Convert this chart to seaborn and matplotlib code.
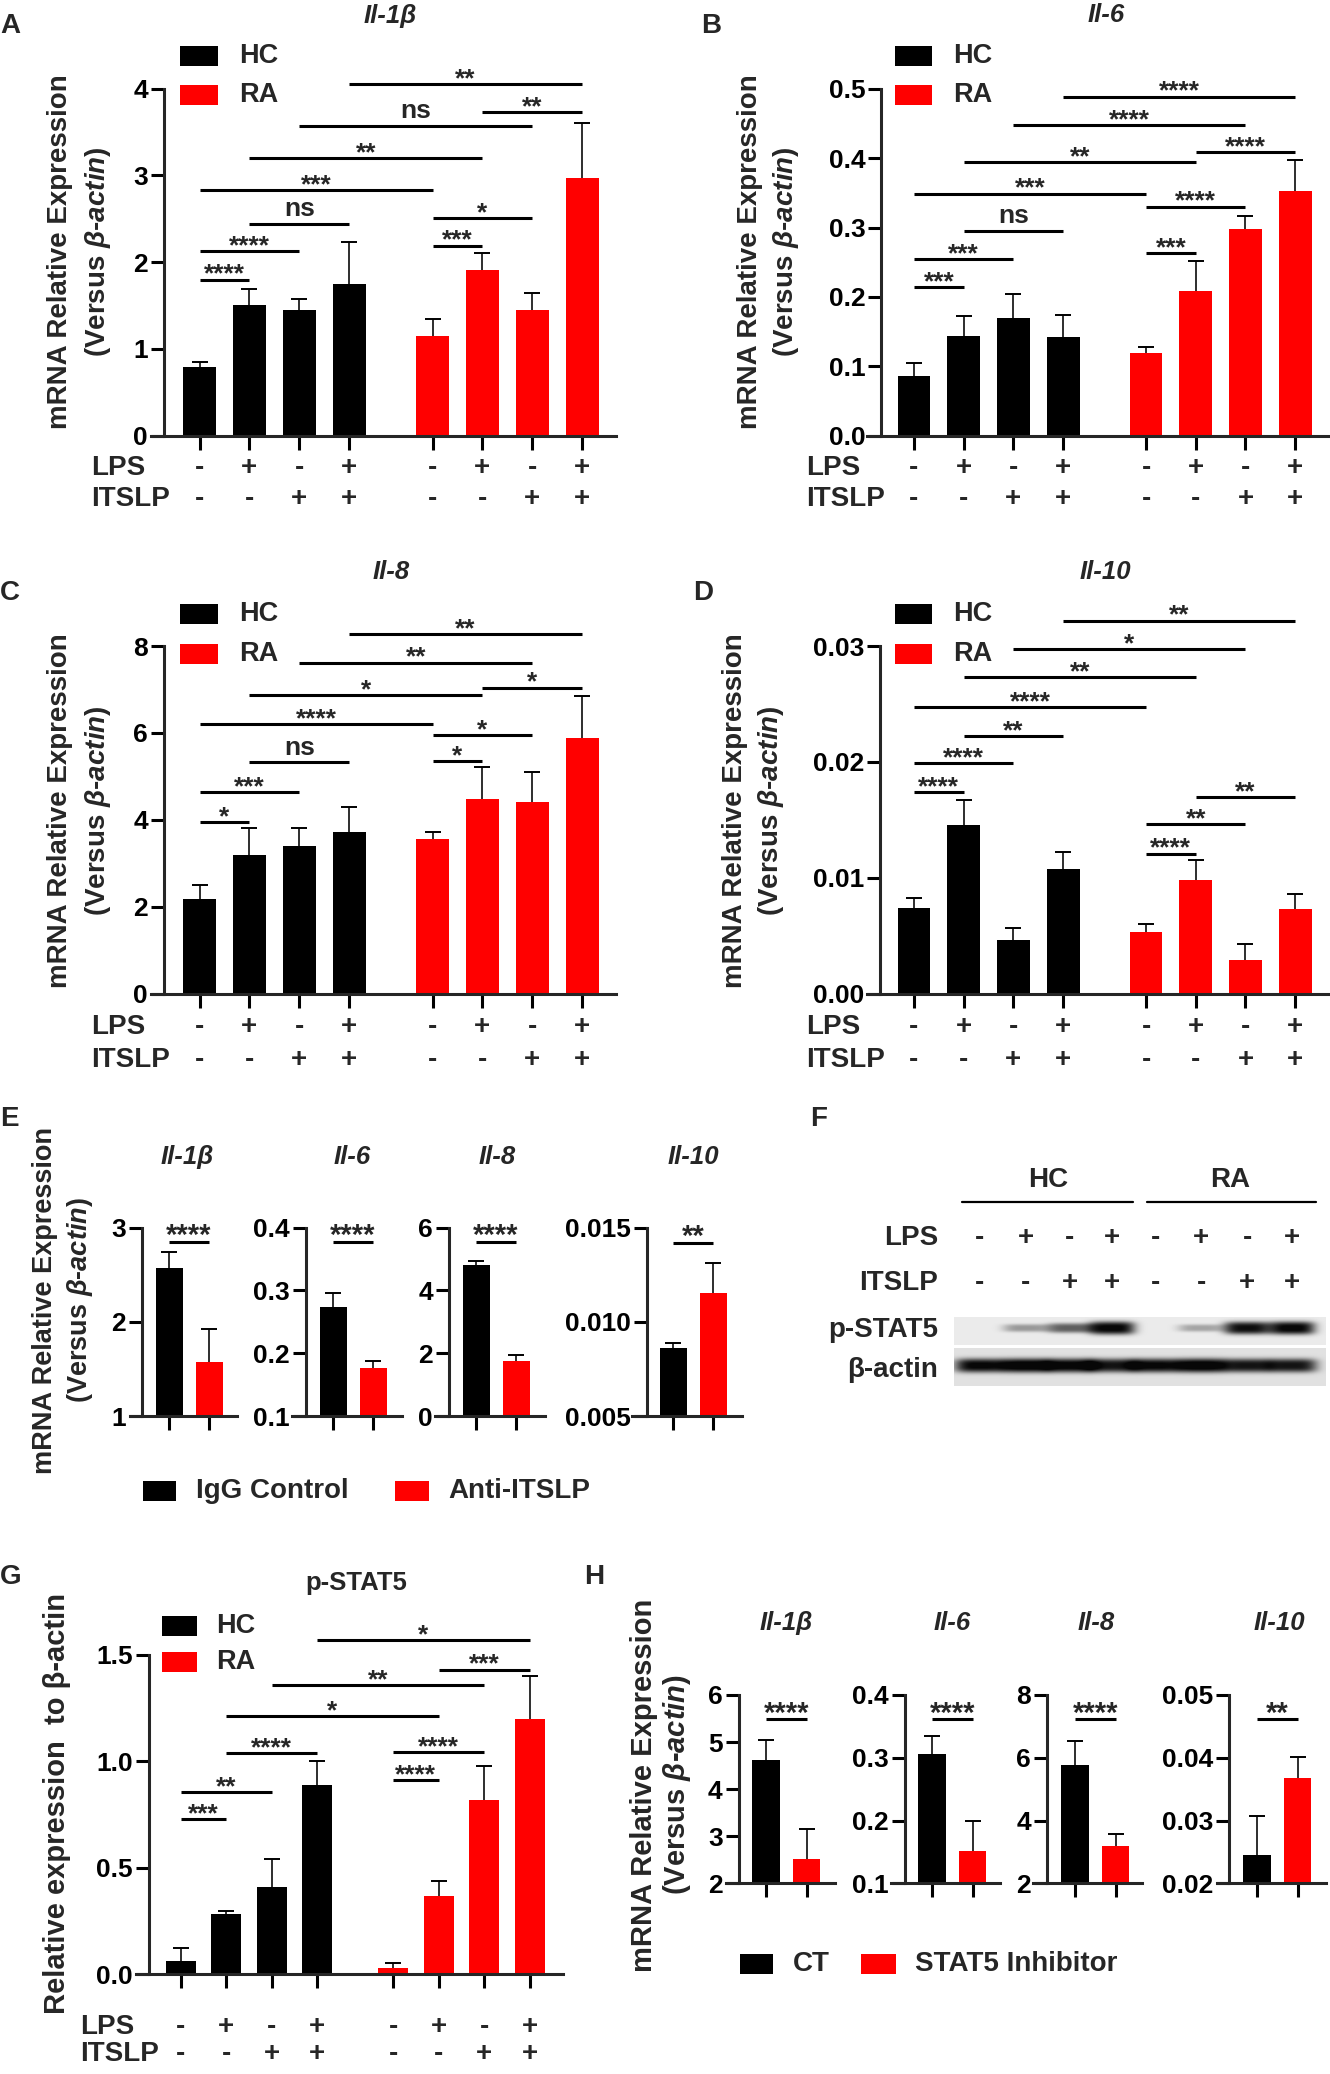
import numpy as np
import pandas as pd
import matplotlib
matplotlib.use("Agg")
import matplotlib.pyplot as plt
import seaborn as sns
from matplotlib.patches import Rectangle
from matplotlib.transforms import blended_transform_factory

# ---------------- data ----------------
groups = ["HC", "HC", "HC", "HC", "RA", "RA", "RA", "RA"]
lps_signs = ["-", "+", "-", "+", "-", "+", "-", "+"]
itslp_signs = ["-", "-", "+", "+", "-", "-", "+", "+"]

il1b_mean = [0.79, 1.51, 1.45, 1.75, 1.15, 1.91, 1.45, 2.97]
il1b_err = [0.06, 0.18, 0.13, 0.48, 0.20, 0.20, 0.19, 0.64]
il1b_ticks = [0, 1, 2, 3, 4]
il1b_ticklabels = ["0", "1", "2", "3", "4"]
il1b_sig = [(0, 1, 1.80, "****"), (0, 2, 2.13, "****"), (1, 3, 2.44, "ns"),
            (0, 4, 2.83, "***"), (1, 5, 3.20, "**"), (2, 6, 3.57, "ns"),
            (3, 7, 4.05, "**"), (4, 5, 2.19, "***"), (4, 6, 2.51, "*"),
            (5, 7, 3.73, "**")]

il6_mean = [0.086, 0.144, 0.170, 0.1415, 0.119, 0.208, 0.298, 0.352]
il6_err = [0.018, 0.029, 0.034, 0.0325, 0.009, 0.044, 0.019, 0.045]
il6_ticks = [0.0, 0.1, 0.2, 0.3, 0.4, 0.5]
il6_ticklabels = ["0.0", "0.1", "0.2", "0.3", "0.4", "0.5"]
il6_sig = [(0, 1, 0.2145, "***"), (0, 2, 0.255, "***"), (1, 3, 0.295, "ns"),
           (0, 4, 0.349, "***"), (1, 5, 0.394, "**"), (2, 6, 0.448, "****"),
           (3, 7, 0.4886, "****"), (4, 5, 0.263, "***"), (4, 6, 0.330, "****"),
           (5, 7, 0.409, "****")]

il8_mean = [2.18, 3.18, 3.39, 3.73, 3.55, 4.48, 4.42, 5.88]
il8_err = [0.31, 0.64, 0.43, 0.56, 0.18, 0.73, 0.69, 0.98]
il8_ticks = [0, 2, 4, 6, 8]
il8_ticklabels = ["0", "2", "4", "6", "8"]
il8_sig = [(0, 1, 3.95, "*"), (0, 2, 4.63, "***"), (1, 3, 5.32, "ns"),
           (0, 4, 6.21, "****"), (1, 5, 6.87, "*"), (2, 6, 7.62, "**"),
           (3, 7, 8.28, "**"), (4, 5, 5.35, "*"), (4, 6, 5.95, "*"),
           (5, 7, 7.04, "*")]

il10_mean = [0.0074, 0.01455, 0.00462, 0.01073, 0.0053, 0.00977, 0.00293, 0.00731]
il10_err = [0.00086, 0.00219, 0.00105, 0.00145, 0.00071, 0.00173, 0.00132, 0.00126]
il10_ticks = [0.0, 0.01, 0.02, 0.03]
il10_ticklabels = ["0.00", "0.01", "0.02", "0.03"]
il10_sig = [(0, 1, 0.01739, "****"), (0, 2, 0.01986, "****"), (1, 3, 0.0222, "**"),
            (0, 4, 0.02473, "****"), (1, 5, 0.02729, "**"), (2, 6, 0.02972, "*"),
            (3, 7, 0.0322, "**"), (4, 5, 0.01209, "****"), (4, 6, 0.01461, "**"),
            (5, 7, 0.01699, "**")]

pstat5_mean = [0.061, 0.280, 0.411, 0.888, 0.027, 0.368, 0.820, 1.199]
pstat5_err = [0.059, 0.016, 0.130, 0.115, 0.026, 0.069, 0.156, 0.200]
pstat5_ticks = [0.0, 0.5, 1.0, 1.5]
pstat5_ticklabels = ["0.0", "0.5", "1.0", "1.5"]
pstat5_sig = [(0, 1, 0.728, "***"), (0, 2, 0.856, "**"), (1, 3, 1.038, "****"),
              (1, 5, 1.211, "*"), (2, 6, 1.356, "**"), (3, 7, 1.569, "*"),
              (4, 5, 0.910, "****"), (4, 6, 1.041, "****"), (5, 7, 1.430, "***")]

genes = ["Il-1β", "Il-6", "Il-8", "Il-10"]

e_groups = ["IgG Control", "Anti-ITSLP"]
e_igg_mean = [2.57, 0.273, 4.80, 0.00859]
e_igg_err = [0.17, 0.022, 0.14, 0.00027]
e_anti_mean = [1.57, 0.176, 1.74, 0.01155]
e_anti_err = [0.35, 0.011, 0.19, 0.00155]
e_ylims = [(1, 3), (0.1, 0.4), (0, 6), (0.005, 0.015)]
e_ticks = [[1, 2, 3], [0.1, 0.2, 0.3, 0.4], [0, 2, 4, 6], [0.005, 0.010, 0.015]]
e_ticklabels = [["1", "2", "3"], ["0.1", "0.2", "0.3", "0.4"], ["0", "2", "4", "6"],
                ["0.005", "0.010", "0.015"]]
e_sig_y = [2.85, 0.377, 5.54, 0.0142]
e_sig_lab = ["****", "****", "****", "**"]

h_groups = ["CT", "STAT5 Inhibitor"]
h_ct_mean = [4.61, 0.3055, 5.77, 0.02451]
h_ct_err = [0.43, 0.0295, 0.78, 0.00627]
h_inh_mean = [2.52, 0.152, 3.19, 0.03673]
h_inh_err = [0.64, 0.047, 0.39, 0.00345]
h_ylims = [(2, 6), (0.1, 0.4), (2, 8), (0.02, 0.05)]
h_ticks = [[2, 3, 4, 5, 6], [0.1, 0.2, 0.3, 0.4], [2, 4, 6, 8], [0.02, 0.03, 0.04, 0.05]]
h_ticklabels = [["2", "3", "4", "5", "6"], ["0.1", "0.2", "0.3", "0.4"],
                ["2", "4", "6", "8"], ["0.02", "0.03", "0.04", "0.05"]]
h_sig_y = [5.48, 0.361, 7.22, 0.0461]
h_sig_lab = ["****", "****", "****", "**"]

blot_lanes = ["HC", "HC", "HC", "HC", "RA", "RA", "RA", "RA"]
blot_pstat5 = [0.0, 0.35, 0.6, 1.0, 0.0, 0.3, 0.95, 1.0]
blot_actin = [0.92, 1.0, 0.95, 0.85, 0.92, 1.0, 0.85, 0.85]

# ---------------- style ----------------
sns.set_theme(style="ticks")
plt.rcParams["font.family"] = ["Liberation Sans", "DejaVu Sans"]
plt.rcParams["font.weight"] = "bold"
plt.rcParams["mathtext.fontset"] = "custom"
plt.rcParams["mathtext.rm"] = "Liberation Sans:bold"
plt.rcParams["mathtext.it"] = "Liberation Sans:italic:bold"
plt.rcParams["mathtext.bf"] = "Liberation Sans:bold"
plt.rcParams["axes.linewidth"] = 2.2

W, H = 1330, 2074
fig = plt.figure(figsize=(W / 100, H / 100), dpi=100)
fig.patch.set_facecolor("white")
RED = "#ff0000"
TICK_FS = 19


def fx(x):
    return x / W


def fy(y):
    return 1 - y / H


def axes_px(L, R, top, bot):
    return fig.add_axes([L / W, 1 - bot / H, (R - L) / W, (bot - top) / H])


def ftext(x, y, s, **kw):
    kw.setdefault("fontweight", "bold")
    return fig.text(fx(x), fy(y), s, **kw)


def style_axes(ax, xlim, yspine, ylim, ticks, labels, xticks):
    for sp in ["top", "right"]:
        ax.spines[sp].set_visible(False)
    ax.spines["left"].set_position(("data", yspine))
    ax.spines["left"].set_linewidth(2.2)
    ax.spines["bottom"].set_linewidth(2.2)
    ax.set_xlim(*xlim)
    ax.set_ylim(*ylim)
    ax.set_yticks(ticks)
    ax.set_yticklabels(labels)
    ax.set_xticks(xticks)
    ax.set_xticklabels([])
    ax.set_xlabel("")
    ax.set_ylabel("")
    ax.tick_params(axis="y", direction="out", length=9.5, width=2.2, pad=2,
                   colors="black", labelsize=TICK_FS)
    ax.tick_params(axis="x", direction="out", length=10, width=2.2, colors="black")
    for t in ax.get_yticklabels():
        t.set_fontweight("bold")
    ax.patch.set_alpha(0)


def err_caps(ax, pos, means, errs, cap):
    pos = np.asarray(pos, float)
    tops = np.asarray(means) + np.asarray(errs)
    ax.vlines(pos, means, tops, color="black", lw=1.15, zorder=3)
    ax.hlines(tops, pos - cap, pos + cap, color="black", lw=1.4, zorder=3)


def sig(ax, x1, x2, y, lab, fs):
    ax.plot([x1, x2], [y, y], color="black", lw=2.2, clip_on=False,
            solid_capstyle="butt", zorder=4)
    off = 5.5 if lab == "ns" else -1.5
    ax.annotate(lab, xy=((x1 + x2) / 2, y), xytext=(0, off), textcoords="offset points",
                ha="center", va="baseline", fontsize=fs, fontweight="bold",
                annotation_clip=False)


def legend_px(items, fs=19.5):
    for (sx, sy, sw, sh, col, tx, lab) in items:
        fig.patches.append(Rectangle((fx(sx), fy(sy + sh)), sw / W, sh / H,
                                     transform=fig.transFigure, facecolor=col,
                                     edgecolor="none"))
        ftext(tx, sy + sh / 2, lab, ha="left", va="center", fontsize=fs)


def ylabel2(x1, x2, yc, fs=20):
    ftext(x1, yc, "mRNA Relative Expression", rotation=90, ha="center", va="center",
          fontsize=fs)
    ftext(x2, yc, r"(Versus $\mathit{\beta}$-$\mathit{actin}$)", rotation=90,
          ha="center", va="center", fontsize=fs)


GAP = 1.67
POS8 = np.array([0, 1, 2, 3, 3 + GAP, 4 + GAP, 5 + GAP, 6 + GAP])


def bar8(spec, means, errs, ylim, ticks, labels, sigs):
    c0, s, L, R, Y, top, bot = spec
    ax = axes_px(L, R, top, bot)
    df = pd.DataFrame({"pos": POS8, "value": means, "group": groups})
    sns.barplot(data=df, x="pos", y="value", hue="group",
                palette={"HC": "black", "RA": RED}, native_scale=True, dodge=False,
                width=0.66, errorbar=None, saturation=1, legend=False, ax=ax,
                linewidth=0)
    err_caps(ax, POS8, means, errs, 8 / s)
    style_axes(ax, ((L - c0) / s, (R - c0) / s), (Y - c0) / s, ylim, ticks, labels, POS8)
    for i, j, y, lab in sigs:
        sig(ax, POS8[i], POS8[j], y, lab, 19)
    return ax


def sign_rows(ax, xs, y1, y2, labx, ha="left", fs=20):
    tr = blended_transform_factory(ax.transData, fig.transFigure)
    for x, a, b in zip(xs, lps_signs, itslp_signs):
        ax.text(x, fy(y1), a, transform=tr, ha="center", va="center", fontsize=fs,
                fontweight="bold")
        ax.text(x, fy(y2), b, transform=tr, ha="center", va="center", fontsize=fs,
                fontweight="bold")
    ftext(labx, y1, "LPS", ha=ha, va="center", fontsize=fs)
    ftext(labx, y2, "ITSLP", ha=ha, va="center", fontsize=fs)


# ---------------- panels A-D, G ----------------
specA = (199.5, 49.9, 151, 616, 164, 88.8, 435.6)
specB = (914, 49.7, 867.5, 1328, 881.5, 88.8, 435.6)
specC = (199.5, 49.9, 151, 616, 164, 646, 993.6)
specD = (914, 49.7, 867.5, 1328, 880, 646, 993.6)
specG = (180.6, 45.5, 136, 562.6, 148.5, 1654.8, 1974)

axA = bar8(specA, il1b_mean, il1b_err, (0, 4), il1b_ticks, il1b_ticklabels, il1b_sig)
axB = bar8(specB, il6_mean, il6_err, (0, 0.5), il6_ticks, il6_ticklabels, il6_sig)
axC = bar8(specC, il8_mean, il8_err, (0, 8), il8_ticks, il8_ticklabels, il8_sig)
axD = bar8(specD, il10_mean, il10_err, (0, 0.03), il10_ticks, il10_ticklabels, il10_sig)
axG = bar8(specG, pstat5_mean, pstat5_err, (0, 1.5), pstat5_ticks, pstat5_ticklabels,
           pstat5_sig)

sign_rows(axA, POS8, 468, 499, 91)
sign_rows(axB, POS8, 468, 499, 806)
sign_rows(axC, POS8, 1027.5, 1059.6, 91)
sign_rows(axD, POS8, 1027.5, 1059.6, 806)
sign_rows(axG, POS8, 2027, 2054, 80)

TITLE_FS = 18.5
ftext(390, 15.5, genes[0], ha="center", va="center", fontsize=TITLE_FS, style="italic")
ftext(1106, 15.5, genes[1], ha="center", va="center", fontsize=TITLE_FS, style="italic")
ftext(391, 572, genes[2], ha="center", va="center", fontsize=TITLE_FS, style="italic")
ftext(1105, 572, genes[3], ha="center", va="center", fontsize=TITLE_FS, style="italic")
ftext(356, 1582.6, "p-STAT5", ha="center", va="center", fontsize=TITLE_FS)

ylabel2(60, 98, 252)
ylabel2(750, 786, 252)
ylabel2(60, 98, 811)
ylabel2(735, 771, 811)
ftext(57, 1804, "Relative expression  to β-actin", rotation=90, ha="center",
      va="center", fontsize=21)

legend_px([(180, 46, 38, 20, "black", 239, "HC"), (180, 85, 38, 20, RED, 239, "RA")])
legend_px([(895, 46, 37, 20, "black", 953, "HC"), (895, 85, 37, 20, RED, 953, "RA")])
legend_px([(180, 604, 38, 20, "black", 239, "HC"), (180, 644, 38, 20, RED, 239, "RA")])
legend_px([(895, 604, 37, 20, "black", 953, "HC"), (895, 644, 37, 20, RED, 953, "RA")])
legend_px([(161.5, 1616, 35.5, 20, "black", 216, "HC"),
           (161.5, 1652, 35.5, 20, RED, 216, "RA")])

# ---------------- panels E, H ----------------
def bar2(c0, s, L, R, Y, top, bot, names, means, errs, colors, ylim, ticks, labels,
         sy, slab):
    ax = axes_px(L, R, top, bot)
    df = pd.DataFrame({"grp": names, "value": means})
    sns.barplot(data=df, x="grp", y="value", hue="grp", order=names, hue_order=names,
                palette=colors, dodge=False, width=0.675, errorbar=None, saturation=1,
                legend=False, ax=ax, linewidth=0)
    err_caps(ax, [0, 1], means, errs, 8 / s)
    style_axes(ax, ((L - c0) / s, (R - c0) / s), (Y - c0) / s, ylim, ticks, labels, [0, 1])
    sig(ax, 0, 1, sy, slab, 21)
    return ax


E_c0 = [169, 333, 476, 673]
E_Y = [142, 306, 449, 647]
E_L = [129.5, 292, 435, 632]
E_R = [236.6, 402, 545, 742]
E_tx = [187.5, 352, 497, 693]
for k in range(4):
    bar2(E_c0[k], 40, E_L[k], E_R[k], E_Y[k], 1227.5, 1416, e_groups,
         [e_igg_mean[k], e_anti_mean[k]], [e_igg_err[k], e_anti_err[k]],
         ["black", RED], e_ylims[k], e_ticks[k], e_ticklabels[k], e_sig_y[k], e_sig_lab[k])
    ftext(E_tx[k], 1157, genes[k], ha="center", va="center", fontsize=TITLE_FS,
          style="italic")
ylabel2(45, 80, 1300, fs=19.5)
legend_px([(143, 1481, 33, 20, "black", 196, e_groups[0]),
           (395, 1481, 34, 20, RED, 448, e_groups[1])], fs=20)

H_c0 = [766, 932, 1075, 1257]
H_Y = [738.7, 905, 1047, 1229]
H_L = [725.7, 891, 1033, 1217]
H_R = [835, 1000, 1142, 1326]
H_tx = [786, 952, 1096, 1279]
for k in range(4):
    bar2(H_c0[k], 40.5, H_L[k], H_R[k], H_Y[k], 1695, 1883.3, h_groups,
         [h_ct_mean[k], h_inh_mean[k]], [h_ct_err[k], h_inh_err[k]],
         ["black", RED], h_ylims[k], h_ticks[k], h_ticklabels[k], h_sig_y[k], h_sig_lab[k])
    ftext(H_tx[k], 1623, genes[k], ha="center", va="center", fontsize=TITLE_FS,
          style="italic")
ylabel2(644, 677, 1785, fs=21)
legend_px([(740, 1954, 33, 20, "black", 793, h_groups[0]),
           (861, 1954, 35, 20, RED, 915, h_groups[1])], fs=20)

# ---------------- panel F (western blot) ----------------
lane_c = np.array([26, 72, 116, 158, 201, 247, 293, 338], float)


def blot(ax, intens, bg, width, height, yc, thick_base, thick_gain, hw, depth):
    xx = np.arange(width)[None, :] + 0.5
    yy = np.arange(height)[:, None] + 0.5
    img = np.full((height, width), bg, float)
    for c, a in zip(lane_c, intens):
        hh = thick_base + thick_gain * a
        band = np.exp(-np.abs((xx - c) / hw) ** 4) * np.exp(-np.abs((yy - yc) / hh) ** 3)
        img -= a * band * depth
    img = np.clip(img, 0.03, 1)
    ax.imshow(img, cmap="gray", vmin=0, vmax=1, aspect="auto", interpolation="bilinear",
              extent=(0, width, height, 0))
    ax.set_xlim(0, width)
    ax.set_ylim(height, 0)
    ax.axis("off")


axP = axes_px(954, 1326, 1317, 1345)
blot(axP, blot_pstat5, 0.92, 372, 28, 11, 2.5, 4.0, 23, 0.92)
axAct = axes_px(954, 1326, 1348, 1386)
blot(axAct, blot_actin, 0.88, 372, 38, 17.5, 6.0, 1.0, 25, 0.95)

tr = blended_transform_factory(axP.transData, fig.transFigure)
for x, a, b in zip(lane_c, lps_signs, itslp_signs):
    axP.text(x, fy(1238), a, transform=tr, ha="center", va="center", fontsize=20,
             fontweight="bold")
    axP.text(x, fy(1283), b, transform=tr, ha="center", va="center", fontsize=20,
             fontweight="bold")
ftext(938, 1238, "LPS", ha="right", va="center", fontsize=20)
ftext(938, 1283, "ITSLP", ha="right", va="center", fontsize=20)
ftext(938, 1330, "p-STAT5", ha="right", va="center", fontsize=20)
ftext(938, 1370, "β-actin", ha="right", va="center", fontsize=20)
ftext(1048, 1180, "HC", ha="center", va="center", fontsize=20)
ftext(1230, 1180, "RA", ha="center", va="center", fontsize=20)
fig.add_artist(plt.Line2D([fx(962), fx(1133)], [fy(1202), fy(1202)], color="black", lw=1.6))
fig.add_artist(plt.Line2D([fx(1147), fx(1316)], [fy(1202), fy(1202)], color="black", lw=1.6))

# ---------------- panel letters ----------------
for lab, x, y in [("A", 0, 13), ("B", 701, 13), ("C", 0, 580), ("D", 693, 580),
                  ("E", 0, 1106), ("F", 810, 1106), ("G", 0, 1564), ("H", 584, 1564)]:
    ftext(x, y, lab, ha="left", va="top", fontsize=20)

fig.savefig("out.png", dpi=100, facecolor="white")
